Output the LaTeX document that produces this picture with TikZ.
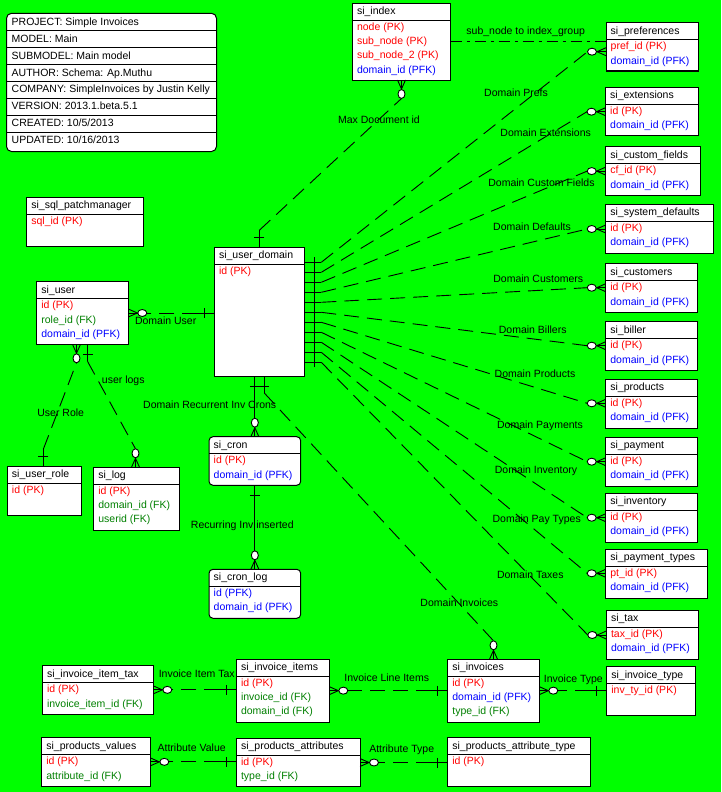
\documentclass[tikz,border=0pt]{standalone}
\usepackage{fontspec}
\setmainfont{Liberation Sans}
\usetikzlibrary{calc}
\definecolor{bg}{RGB}{0,255,0}
\definecolor{pkc}{RGB}{255,0,0}
\definecolor{pfkc}{RGB}{0,0,255}
\definecolor{fkc}{RGB}{0,128,0}
\tikzset{
 tbox/.style={draw, fill=white, line width=1pt, inner sep=0pt, outer sep=0pt, anchor=north west},
 rtbox/.style={tbox, rounded corners=4pt},
 txt/.style={inner sep=0pt, text height=7.5pt, text depth=2.2pt, font=\fontsize{10.5}{12}\selectfont},
 rtxt/.style={txt, anchor=west},
 lbl/.style={txt},
 conn/.style={line width=0.9pt},
 nid/.style={conn, dash pattern=on 15pt off 8pt},
 idf/.style={conn},
 dashdot/.style={conn, dash pattern=on 11pt off 5pt on 3pt off 5pt},
}
% table: style, name, left, top, width, height, title
\newcommand\tbl[7]{%
 \node[#1, minimum width=#5pt, minimum height=#6pt] (#2) at (#3,#4) {};
 \draw[line width=1pt] ([yshift=-17pt]#2.north west) -- ([yshift=-17pt]#2.north east);
 \node[rtxt] (#2-t) at ([xshift=4.5pt,yshift=-8.8pt]#2.north west) {#7};
}
% row: table, k, colour, text
\newcommand\rw[4]{%
 \node[rtxt, text=#3] (#1-#2) at ([xshift=4.5pt,yshift={-(24.5+14.2*(#2-1))*1pt}]#1.north west) {#4};
}
% relation: style, parent point, pdx, pdy, child point, cdx, cdy
\newcommand\relate[7]{%
 \path (#2) ++({17*(#3)},{17*(#4)}) coordinate (rp);
 \path (#5) ++({18.5*(#6)},{18.5*(#7)}) coordinate (rc);
 \draw[#1] (rp) -- (rc);
 \draw[conn] (#2) -- (rp);
 \draw[conn] (#2) ++({10*(#3)-5*(#4)},{10*(#4)+5*(#3)}) -- ++({10*(#4)},{-10*(#3)});
 \draw[conn] (#5) ++({4*(#7)},{-4*(#6)}) -- ++({9*(#6)-4*(#7)},{9*(#7)+4*(#6)}) -- ++({-9*(#6)-4*(#7)},{-9*(#7)+4*(#6)});
 \draw[conn] (#5) -- (rc);
 \path (#5) ++({14*(#6)},{14*(#7)}) coordinate (rcc);
 \draw[conn, fill=white] (rcc) ellipse [x radius={(3.5+abs(#6))*1pt}, y radius={(3.5+abs(#7))*1pt}];
}
\begin{document}
\begin{tikzpicture}[x=1pt,y=-1pt]
\fill[bg] (0,0) rectangle (721,792);
\useasboundingbox (0,0) rectangle (721,792);

% metadata box
\node[draw, fill=white, line width=1pt, rounded corners=5pt, minimum width=210pt, minimum height=138.2pt, anchor=north west, inner sep=0pt, outer sep=0pt] (meta) at (6.5,13.3) {};
\foreach \k in {1,...,7} \draw[line width=1pt] ([yshift={-(17.4+17*(\k-1))*1pt}]meta.north west) -- ++(210pt,0);
\foreach \k/\s in {1/{PROJECT: Simple Invoices}, 2/{MODEL: Main}, 3/{SUBMODEL: Main model}, 4/{AUTHOR: Schema: Ap.Muthu}, 5/{COMPANY: SimpleInvoices by Justin Kelly}, 6/{VERSION: 2013.1.beta.5.1}, 7/{CREATED: 10/5/2013}, 8/{UPDATED: 10/16/2013}}
 \node[rtxt] (meta-\k) at ([xshift=5pt,yshift={-(9.2+16.95*(\k-1))*1pt}]meta.north west) {\s};

% tables
\tbl{tbox}{idx}{352.3}{3.3}{98.4}{76.7}{si\_index}
\rw{idx}{1}{pkc}{node (PK)}\rw{idx}{2}{pkc}{sub\_node (PK)}\rw{idx}{3}{pkc}{sub\_node\_2 (PK)}\rw{idx}{4}{pfkc}{domain\_id (PFK)}

\tbl{tbox}{pref}{606}{22.7}{92.3}{48.3}{si\_preferences}
\rw{pref}{1}{pkc}{pref\_id (PK)}\rw{pref}{2}{pfkc}{domain\_id (PFK)}
\tbl{tbox}{ext}{605.5}{87.3}{92.5}{48.4}{si\_extensions}
\rw{ext}{1}{pkc}{id (PK)}\rw{ext}{2}{pfkc}{domain\_id (PFK)}
\tbl{tbox}{cf}{605.7}{146.7}{94.3}{48.3}{si\_custom\_fields}
\rw{cf}{1}{pkc}{cf\_id (PK)}\rw{cf}{2}{pfkc}{domain\_id (PFK)}
\tbl{tbox}{sd}{605.7}{204.3}{107.6}{49}{si\_system\_defaults}
\rw{sd}{1}{pkc}{id (PK)}\rw{sd}{2}{pfkc}{domain\_id (PFK)}
\tbl{tbox}{cust}{605.7}{263.7}{91.6}{48.6}{si\_customers}
\rw{cust}{1}{pkc}{id (PK)}\rw{cust}{2}{pfkc}{domain\_id (PFK)}
\tbl{tbox}{bill}{605.7}{321.7}{91.6}{49}{si\_biller}
\rw{bill}{1}{pkc}{id (PK)}\rw{bill}{2}{pfkc}{domain\_id (PFK)}
\tbl{tbox}{prod}{605.7}{379.3}{91.6}{49}{si\_products}
\rw{prod}{1}{pkc}{id (PK)}\rw{prod}{2}{pfkc}{domain\_id (PFK)}
\tbl{tbox}{pay}{605.7}{437.3}{91.6}{48.7}{si\_payment}
\rw{pay}{1}{pkc}{id (PK)}\rw{pay}{2}{pfkc}{domain\_id (PFK)}
\tbl{tbox}{invt}{605.7}{493.3}{91.6}{49}{si\_inventory}
\rw{invt}{1}{pkc}{id (PK)}\rw{invt}{2}{pfkc}{domain\_id (PFK)}
\tbl{tbox}{ptyp}{605.7}{549.3}{101.6}{49}{si\_payment\_types}
\rw{ptyp}{1}{pkc}{pt\_id (PK)}\rw{ptyp}{2}{pfkc}{domain\_id (PFK)}
\tbl{tbox}{tax}{606.3}{610}{92}{49.3}{si\_tax}
\rw{tax}{1}{pkc}{tax\_id (PK)}\rw{tax}{2}{pfkc}{domain\_id (PFK)}

\tbl{tbox}{sql}{26.7}{197.3}{116.6}{48.7}{si\_sql\_patchmanager}
\rw{sql}{1}{pkc}{sql\_id (PK)}
\tbl{tbox}{ud}{214.3}{247.3}{90}{128.7}{si\_user\_domain}
\rw{ud}{1}{pkc}{id (PK)}
\tbl{tbox}{user}{36.7}{281.7}{91.6}{62.6}{si\_user}
\rw{user}{1}{pkc}{id (PK)}\rw{user}{2}{fkc}{role\_id (FK)}\rw{user}{3}{pfkc}{domain\_id (PFK)}
\tbl{tbox}{role}{7.3}{466.3}{74}{48.7}{si\_user\_role}
\rw{role}{1}{pkc}{id (PK)}
\tbl{tbox}{log}{93.7}{467.3}{85.6}{63}{si\_log}
\rw{log}{1}{pkc}{id (PK)}\rw{log}{2}{fkc}{domain\_id (FK)}\rw{log}{3}{fkc}{userid (FK)}
\tbl{rtbox}{cron}{209}{436.7}{91.7}{48.6}{si\_cron}
\rw{cron}{1}{pkc}{id (PK)}\rw{cron}{2}{pfkc}{domain\_id (PFK)}
\tbl{rtbox}{cronlog}{209}{569.3}{91.7}{49}{si\_cron\_log}
\rw{cronlog}{1}{pfkc}{id (PFK)}\rw{cronlog}{2}{pfkc}{domain\_id (PFK)}

\tbl{tbox}{iit}{42.3}{665.7}{111}{48.3}{si\_invoice\_item\_tax}
\rw{iit}{1}{pkc}{id (PK)}\rw{iit}{2}{fkc}{invoice\_item\_id (FK)}
\tbl{tbox}{ii}{236.3}{659.3}{93}{62.7}{si\_invoice\_items}
\rw{ii}{1}{pkc}{id (PK)}\rw{ii}{2}{fkc}{invoice\_id (FK)}\rw{ii}{3}{fkc}{domain\_id (FK)}
\tbl{tbox}{inv}{447.7}{659.3}{91.6}{62.7}{si\_invoices}
\rw{inv}{1}{pkc}{id (PK)}\rw{inv}{2}{pfkc}{domain\_id (PFK)}\rw{inv}{3}{fkc}{type\_id (FK)}
\tbl{tbox}{ityp}{606.7}{666.7}{88.3}{48.3}{si\_invoice\_type}
\rw{ityp}{1}{pkc}{inv\_ty\_id (PK)}
\tbl{tbox}{pv}{41.7}{737.7}{108.6}{48.3}{si\_products\_values}
\rw{pv}{1}{pkc}{id (PK)}\rw{pv}{2}{fkc}{attribute\_id (FK)}
\tbl{tbox}{pa}{236.3}{738.3}{123.7}{48.4}{si\_products\_attributes}
\rw{pa}{1}{pkc}{id (PK)}\rw{pa}{2}{fkc}{type\_id (FK)}
\tbl{tbox}{pat}{447.7}{737.7}{142.3}{48.3}{si\_products\_attribute\_type}
\rw{pat}{1}{pkc}{id (PK)}

% relations
\draw[dashdot] (idx.east) -- (pref.west |- idx.east);
\foreach \t/\i/\cy in {pref/0/29, ext/1/24.4, cf/2/24.4, sd/3/24.7, cust/4/24, bill/5/24, prod/6/24, pay/7/24.4, invt/8/24.4, ptyp/9/24, tax/10/25}{
 \relate{nid}{[yshift={-(15+10*\i)*1pt}]ud.north east}{1}{0}{[yshift={-\cy*1pt}]\t.north west}{-1}{0}
}
\relate{nid}{ud.north}{0}{-1}{idx.south}{0}{1}
\relate{idf}{ud.south -| cron.north}{0}{1}{cron.north}{0}{-1}
\relate{nid}{[xshift=5pt]ud.south}{0}{1}{inv.north}{0}{-1}
\relate{idf}{cron.south}{0}{1}{cronlog.north}{0}{-1}
\relate{nid}{ud.west |- user.east}{-1}{0}{user.east}{1}{0}
\relate{nid}{[xshift=-1pt]role.north}{0}{-1}{[xshift=-6pt]user.south}{0}{1}
\relate{nid}{[xshift=5pt]user.south}{0}{1}{[xshift=-1pt]log.north}{0}{-1}
\relate{nid}{ii.west |- iit.east}{-1}{0}{iit.east}{1}{0}
\relate{nid}{inv.west |- ii.east}{-1}{0}{ii.east}{1}{0}
\relate{nid}{ityp.west |- inv.east}{-1}{0}{inv.east}{1}{0}
\relate{nid}{pa.west |- pv.east}{-1}{0}{pv.east}{1}{0}
\relate{nid}{pat.west |- pa.east}{-1}{0}{pa.east}{1}{0}

% labels
\node[lbl] (l-sub) at (525.7,31.7) {sub\_node to index\_group};
\node[lbl] (l-max) at (379,121) {Max Document id};
\node[lbl] (l-prefs) at (516,94.3) {Domain Prefs};
\node[lbl] (l-ext) at (545.7,134.3) {Domain Extensions};
\node[lbl] (l-cf) at (541.5,184) {Domain Custom Fields};
\node[lbl] (l-def) at (532,228) {Domain Defaults};
\node[lbl] (l-cust) at (538.3,280) {Domain Customers};
\node[lbl] (l-bill) at (532.7,331) {Domain Billers};
\node[lbl] (l-prod) at (535,375) {Domain Products};
\node[lbl] (l-pay) at (540,426) {Domain Payments};
\node[lbl] (l-inv) at (536,471) {Domain Inventory};
\node[lbl] (l-pt) at (536.7,520) {Domain Pay Types};
\node[lbl] (l-tax) at (530.3,576) {Domain Taxes};
\node[lbl] (l-dinv) at (459.3,604) {Domain Invoices};
\node[lbl] (l-du) at (165.7,322.3) {Domain User};
\node[lbl] (l-ur) at (60.7,414) {User Role};
\node[lbl] (l-ul) at (123.3,381.3) {user logs};
\node[lbl] (l-drc) at (209.7,406) {Domain Recurrent Inv Crons};
\node[lbl] (l-rii) at (242.3,526) {Recurring Inv inserted};
\node[lbl] (l-iit) at (196.7,675) {Invoice Item Tax};
\node[lbl] (l-ili) at (386.7,679.3) {Invoice Line Items};
\node[lbl] (l-it) at (573.3,680) {Invoice Type};
\node[lbl] (l-av) at (191.7,749.3) {Attribute Value};
\node[lbl] (l-at) at (401.7,750) {Attribute Type};
\end{tikzpicture}
\end{document}
